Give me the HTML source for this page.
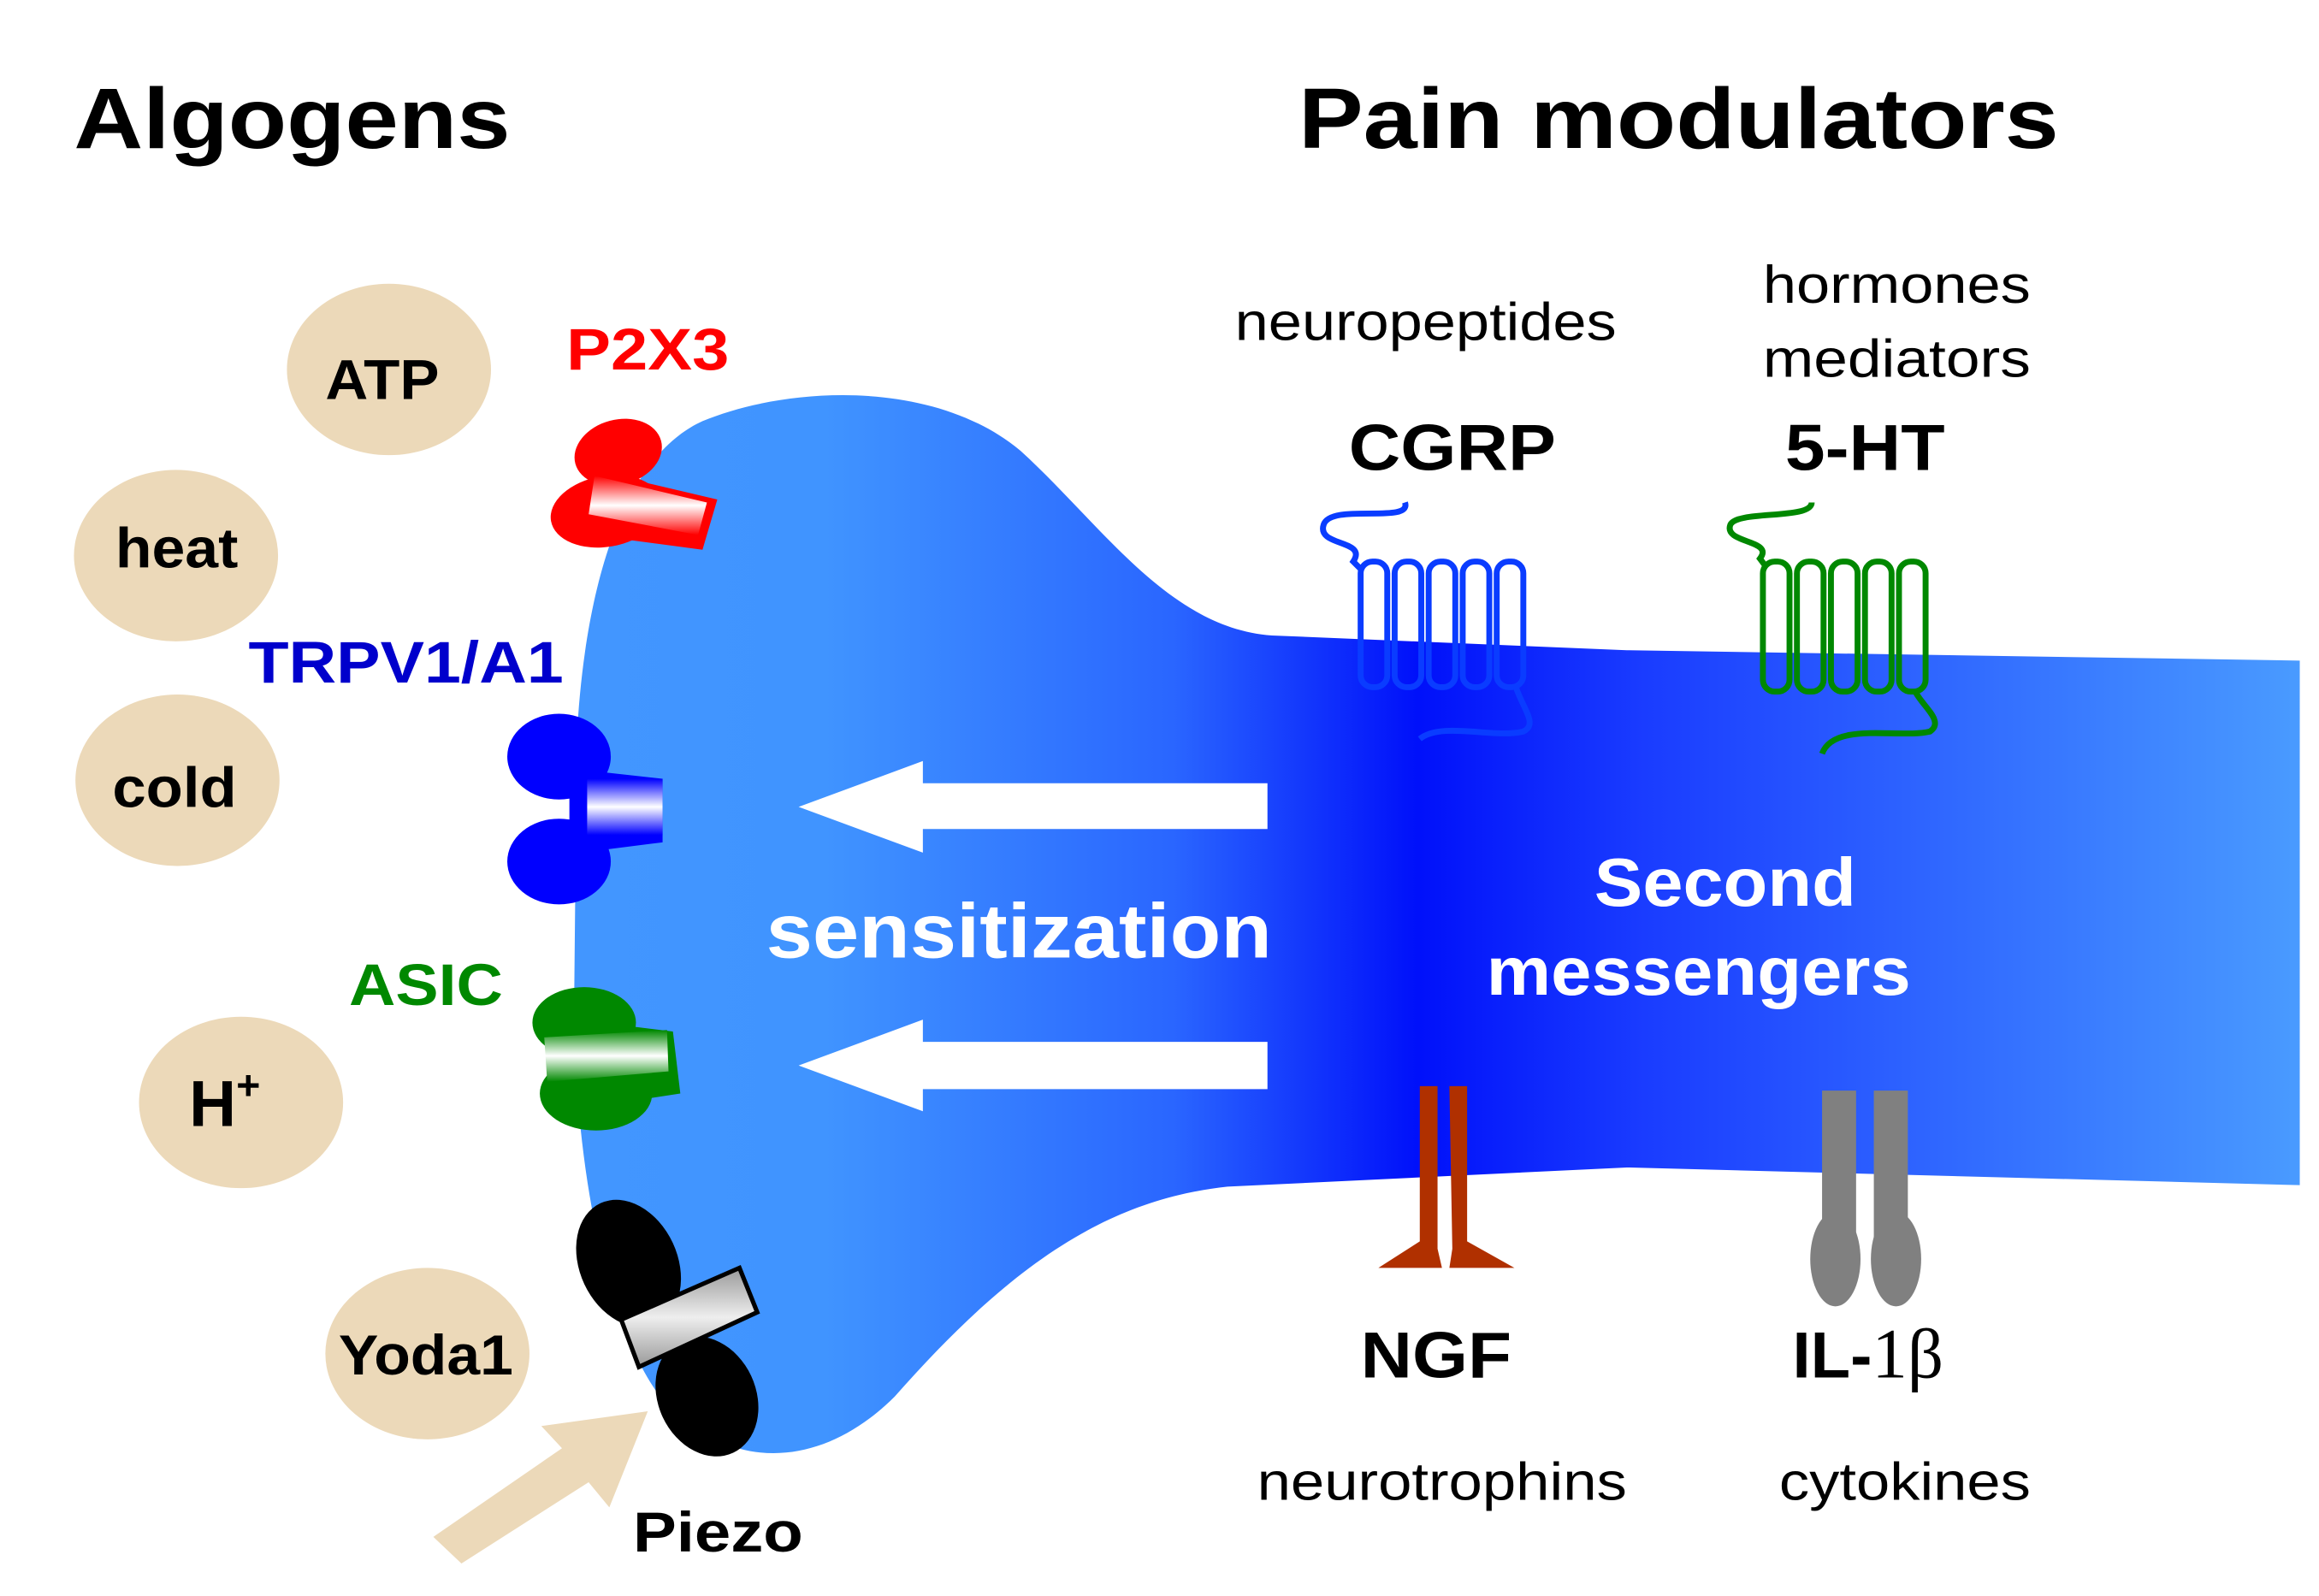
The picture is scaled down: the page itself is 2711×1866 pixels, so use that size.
<!DOCTYPE html>
<html><head><meta charset="utf-8"><style>html,body{margin:0;padding:0;background:#fff}svg{display:block}</style></head>
<body>
<svg width="2711" height="1866" viewBox="0 0 1568 1080" preserveAspectRatio="none" xmlns="http://www.w3.org/2000/svg" font-family="Liberation Sans, Arial, sans-serif">
<defs>
<linearGradient id="body" x1="380" y1="0" x2="1560" y2="0" gradientUnits="userSpaceOnUse">
<stop offset="0" stop-color="#4296ff"/><stop offset="0.15" stop-color="#4094ff"/>
<stop offset="0.35" stop-color="#2a66ff"/><stop offset="0.49" stop-color="#0010fa"/>
<stop offset="0.62" stop-color="#1a3cff"/><stop offset="1" stop-color="#4a9cff"/>
</linearGradient>
<linearGradient id="wr" x1="0" y1="0" x2="0" y2="1"><stop offset="0" stop-color="#f00"/><stop offset="0.5" stop-color="#fff"/><stop offset="1" stop-color="#f00"/></linearGradient>
<linearGradient id="wb" x1="0" y1="0" x2="0" y2="1"><stop offset="0" stop-color="#00f"/><stop offset="0.5" stop-color="#fff"/><stop offset="1" stop-color="#00f"/></linearGradient>
<linearGradient id="wg" x1="0" y1="0" x2="0" y2="1"><stop offset="0" stop-color="#080"/><stop offset="0.5" stop-color="#fff"/><stop offset="1" stop-color="#080"/></linearGradient>
<linearGradient id="wk" x1="0" y1="0" x2="0" y2="1"><stop offset="0" stop-color="#999"/><stop offset="0.5" stop-color="#eee"/><stop offset="1" stop-color="#999"/></linearGradient>
</defs>

<text x="50" y="100" font-size="58" font-weight="bold" textLength="295" lengthAdjust="spacingAndGlyphs">Algogens</text>
<text x="878" y="100" font-size="58" font-weight="bold" textLength="514" lengthAdjust="spacingAndGlyphs">Pain modulators</text>

<path d="M1555,447 L1100,440 L860,430 C790,425 745,355 690,305 C630,255 530,262 475,285 C420,310 395,400 390,500 L388,700 C392,800 410,900 450,950 C500,1000 560,990 605,945 C680,860 745,812 830,803 L1100,790 L1555,802 Z" fill="url(#body)"/>

<g fill="#ecd9b9">
<ellipse cx="263" cy="250" rx="69" ry="58"/>
<ellipse cx="119" cy="376" rx="69" ry="58"/>
<ellipse cx="120" cy="528" rx="69" ry="58"/>
<ellipse cx="163" cy="746" rx="69" ry="58"/>
<ellipse cx="289" cy="916" rx="69" ry="58"/>
<polygon points="293,1040 380,980 366,965 438,955 412,1020 398,1003 312,1058"/>
</g>
<g font-size="38" font-weight="bold">
<text x="220" y="270" textLength="77" lengthAdjust="spacingAndGlyphs">ATP</text>
<text x="78" y="384" textLength="83" lengthAdjust="spacingAndGlyphs">heat</text>
<text x="76" y="546" textLength="84" lengthAdjust="spacingAndGlyphs">cold</text>
<text x="152" y="762" text-anchor="middle" font-size="44">H<tspan font-size="28" dy="-18">+</tspan></text>
<text x="229" y="930" textLength="118" lengthAdjust="spacingAndGlyphs">Yoda1</text>
<text x="428" y="1050" textLength="115" lengthAdjust="spacingAndGlyphs">Piezo</text>
</g>

<text x="383" y="250" font-size="40" font-weight="bold" fill="#f00" textLength="110" lengthAdjust="spacingAndGlyphs">P2X3</text>
<g fill="#f00">
<ellipse cx="418" cy="306" rx="30" ry="22" transform="rotate(-15 418 306)"/>
<ellipse cx="410" cy="346" rx="38" ry="24" transform="rotate(-10 410 346)"/>
<polygon points="400,318 485,338 475,372 400,362"/>
</g>
<polygon points="402,322 478,340 472,362 398,348" fill="url(#wr)"/>

<text x="168" y="462" font-size="40" font-weight="bold" fill="#00c" textLength="213" lengthAdjust="spacingAndGlyphs">TRPV1/A1</text>
<g fill="#00f">
<ellipse cx="378" cy="512" rx="35" ry="29"/>
<ellipse cx="378" cy="583" rx="35" ry="29"/>
<polygon points="385,520 448,527 448,570 385,578"/>
</g>
<rect x="397" y="527" width="51" height="38" fill="url(#wb)"/>

<text x="236" y="680" font-size="40" font-weight="bold" fill="#080" textLength="104" lengthAdjust="spacingAndGlyphs">ASIC</text>
<g fill="#080">
<ellipse cx="395" cy="692" rx="35" ry="24"/>
<ellipse cx="403" cy="740" rx="38" ry="25"/>
<polygon points="390,690 455,698 460,740 395,750"/>
</g>
<polygon points="368,702 451,697 452,725 370,732" fill="url(#wg)"/>

<g fill="#000">
<ellipse cx="425" cy="855" rx="33" ry="45" transform="rotate(-25 425 855)"/>
<ellipse cx="478" cy="945" rx="33" ry="42" transform="rotate(-25 478 945)"/>
</g>
<polygon points="420,893 500,858 512,888 432,925" fill="url(#wk)" stroke="#000" stroke-width="3"/>

<g fill="#fff">
<polygon points="857,530 624,530 624,515 540,546 624,577 624,561 857,561"/>
<polygon points="857,705 624,705 624,690 540,721 624,752 624,737 857,737"/>
</g>
<text x="518" y="648" font-size="52" font-weight="bold" fill="#fff" textLength="342" lengthAdjust="spacingAndGlyphs">sensitization</text>
<text x="1078" y="613" font-size="46" font-weight="bold" fill="#fff" textLength="177" lengthAdjust="spacingAndGlyphs">Second</text>
<text x="1005" y="673" font-size="46" font-weight="bold" fill="#fff" textLength="287" lengthAdjust="spacingAndGlyphs">messengers</text>

<text x="835" y="230" font-size="36" textLength="258" lengthAdjust="spacingAndGlyphs">neuropeptides</text>
<text x="912" y="318" font-size="44" font-weight="bold" textLength="140" lengthAdjust="spacingAndGlyphs">CGRP</text>
<g fill="none" stroke="#0a3cff" stroke-width="4">
<path d="M950,340 C955,355 900,340 895,355 C890,370 925,365 915,380 L920,385"/>
<rect x="920" y="380" width="18" height="85" rx="8"/>
<rect x="943" y="380" width="18" height="85" rx="8"/>
<rect x="966" y="380" width="18" height="85" rx="8"/>
<rect x="989" y="380" width="18" height="85" rx="8"/>
<rect x="1012" y="380" width="18" height="85" rx="8"/>
<path d="M1025,465 C1030,480 1040,490 1030,495 C1010,500 975,488 960,500"/>
</g>

<text x="1192" y="205" font-size="36" textLength="181" lengthAdjust="spacingAndGlyphs">hormones</text>
<text x="1192" y="255" font-size="36" textLength="181" lengthAdjust="spacingAndGlyphs">mediators</text>
<text x="1207" y="318" font-size="44" font-weight="bold" textLength="108" lengthAdjust="spacingAndGlyphs">5-HT</text>
<g fill="none" stroke="#080" stroke-width="4">
<path d="M1225,340 C1225,352 1175,345 1170,355 C1165,368 1200,365 1190,378 L1193,382"/>
<rect x="1192" y="380" width="18" height="88" rx="8"/>
<rect x="1215" y="380" width="18" height="88" rx="8"/>
<rect x="1238" y="380" width="18" height="88" rx="8"/>
<rect x="1261" y="380" width="18" height="88" rx="8"/>
<rect x="1284" y="380" width="18" height="88" rx="8"/>
<path d="M1295,468 C1300,478 1315,488 1305,495 C1285,500 1240,488 1232,510"/>
</g>

<g fill="#b03000">
<polygon points="960,735 972,735 972,845 975,858 932,858 960,840"/>
<polygon points="980,735 992,735 992,840 1024,858 980,858 982,845"/>
</g>
<text x="920" y="932" font-size="44" font-weight="bold" textLength="102" lengthAdjust="spacingAndGlyphs">NGF</text>
<text x="850" y="1015" font-size="36" textLength="250" lengthAdjust="spacingAndGlyphs">neurotrophins</text>

<g fill="#808080">
<rect x="1232" y="738" width="23" height="100"/>
<rect x="1267" y="738" width="23" height="100"/>
<ellipse cx="1241" cy="852" rx="17" ry="32"/>
<ellipse cx="1282" cy="852" rx="17" ry="32"/>
</g>
<text x="1212" y="932" font-size="44" font-weight="bold">IL-<tspan font-weight="normal" font-family="Liberation Serif, serif" font-size="48">1β</tspan></text>
<text x="1203" y="1015" font-size="36" textLength="170" lengthAdjust="spacingAndGlyphs">cytokines</text>
</svg>
</body></html>
